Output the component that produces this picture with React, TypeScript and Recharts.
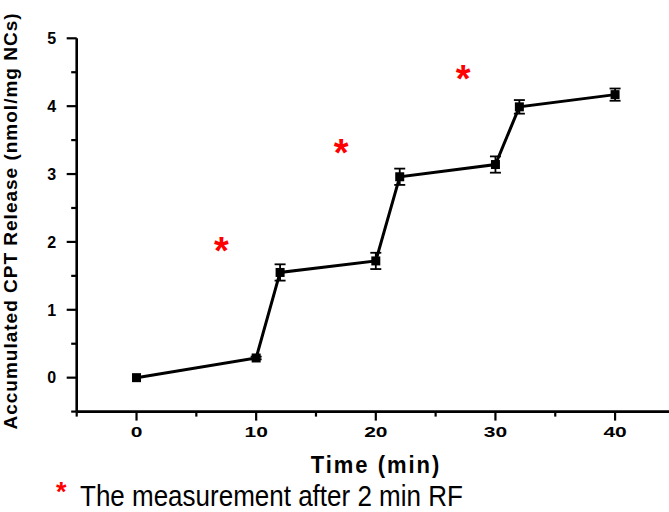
import React from 'react';
import { ComposedChart, Line, Scatter, XAxis, YAxis, ErrorBar, Label } from 'recharts';

const times = [0, 10, 12, 20, 22, 30, 32, 40];
const release = [0, 0.29, 1.55, 1.72, 2.96, 3.14, 3.99, 4.17];
const releaseErr = [0, 0.02, 0.12, 0.12, 0.12, 0.12, 0.1, 0.09];
const rfTimes = [7.1, 17.1, 27.3];
const rfMarks = [1.94, 3.38, 4.47];
const xTicks = [-5, 0, 5, 10, 15, 20, 25, 30, 35, 40, 45];
const yTicks = [-0.5, 0, 0.5, 1, 1.5, 2, 2.5, 3, 3.5, 4, 4.5, 5];
const xTitle = 'Time (min)';
const yTitle = 'Accumulated CPT Release (nmol/mg NCs)';
const noteStar = '*';
const noteText = 'The measurement after 2 min RF';

const FONT = "'Liberation Sans', Arial, sans-serif";

const data = times.map((t, i) => ({ t, release: release[i], err: releaseErr[i] }));
const stars = rfTimes.map((t, i) => ({ t, level: rfMarks[i] }));

const XTick = (props: any) => {
  const { x, y, payload } = props;
  const v = payload.value;
  const major = v % 10 === 0;
  return (
    <g>
      <line x1={x} y1={y} x2={x} y2={y + (major ? 9 : 5)} stroke="#000" strokeWidth={2.2} />
      {major && (
        <text
          transform={`translate(${x},${y + 25.7}) scale(1.4,1)`}
          textAnchor="middle"
          fontFamily={FONT}
          fontWeight="bold"
          fontSize={15}
          fill="#000"
        >
          {v}
        </text>
      )}
    </g>
  );
};

const YTick = (props: any) => {
  const { x, y, payload } = props;
  const v = payload.value;
  const major = Number.isInteger(v);
  return (
    <g>
      <line x1={x} y1={y} x2={x - (major ? 10 : 5.5)} y2={y} stroke="#000" strokeWidth={2.2} />
      {major && (
        <text
          x={x - 20.5}
          y={y}
          dy="0.36em"
          textAnchor="end"
          fontFamily={FONT}
          fontWeight="bold"
          fontSize={16}
          fill="#000"
        >
          {v}
        </text>
      )}
    </g>
  );
};

const SquareDot = (props: any) => {
  const { cx, cy, index } = props;
  if (cx == null || cy == null) return <g key={index} />;
  return <rect key={index} x={cx - 4.5} y={cy - 4.5} width={9} height={9} fill="#000" />;
};

const StarShape = (props: any) => {
  const { cx, cy } = props;
  return (
    <text
      x={cx}
      y={cy + 18}
      textAnchor="middle"
      fill="#ff0000"
      fontFamily={FONT}
      fontWeight="bold"
      fontSize={38}
    >
      *
    </text>
  );
};

export default function App() {
  return (
    <div
      style={{
        position: 'absolute',
        left: 0,
        top: 0,
        width: 669,
        height: 512,
        overflow: 'hidden',
        background: '#fff',
      }}
    >
      <ComposedChart
        width={700}
        height={512}
        data={data}
        margin={{ top: 38.3, right: 25.1, bottom: 38.4, left: 16.7 }}
      >
        <XAxis
          dataKey="t"
          type="number"
          domain={[-5, 45]}
          ticks={xTicks}
          allowDataOverflow
          interval={0}
          height={62}
          tickSize={0}
          tickMargin={0}
          tickLine={false}
          tick={<XTick />}
          axisLine={{ stroke: '#000', strokeWidth: 2.6 }}
        >
          <Label
            content={() => (
              <text
                transform="translate(376,473.3) scale(1,1.08)"
                textAnchor="middle"
                fontFamily={FONT}
                fontWeight="bold"
                fontSize={22}
                letterSpacing={2}
                fill="#000"
              >
                {xTitle}
              </text>
            )}
          />
        </XAxis>
        <YAxis
          type="number"
          domain={[-0.5, 5]}
          ticks={yTicks}
          allowDataOverflow
          interval={0}
          width={60}
          tickSize={0}
          tickMargin={0}
          tickLine={false}
          tick={<YTick />}
          axisLine={{ stroke: '#000', strokeWidth: 2.6 }}
        >
          <Label
            content={() => (
              <text
                transform="translate(16.5,221) rotate(-90)"
                textAnchor="middle"
                fontFamily={FONT}
                fontWeight="bold"
                fontSize={19}
                letterSpacing={1}
                fill="#000"
              >
                {yTitle}
              </text>
            )}
          />
        </YAxis>
        <Line
          dataKey="release"
          type="linear"
          stroke="#000"
          strokeWidth={3}
          dot={SquareDot}
          activeDot={false}
          isAnimationActive={false}
        >
          <ErrorBar dataKey="err" direction="y" width={5.5} stroke="#000" strokeWidth={1.8} />
        </Line>
        <Scatter data={stars} dataKey="level" shape={StarShape} isAnimationActive={false} />
      </ComposedChart>
      <svg
        width={669}
        height={512}
        style={{ position: 'absolute', left: 0, top: 0, pointerEvents: 'none' }}
      >
        <text x={56} y={501} fill="#ff0000" fontFamily={FONT} fontWeight="bold" fontSize={27}>
          {noteStar}
        </text>
        <text
          transform="translate(80,506) scale(1,1.13)"
          fill="#000"
          fontFamily={FONT}
          fontSize={26}
        >
          {noteText}
        </text>
      </svg>
    </div>
  );
}
